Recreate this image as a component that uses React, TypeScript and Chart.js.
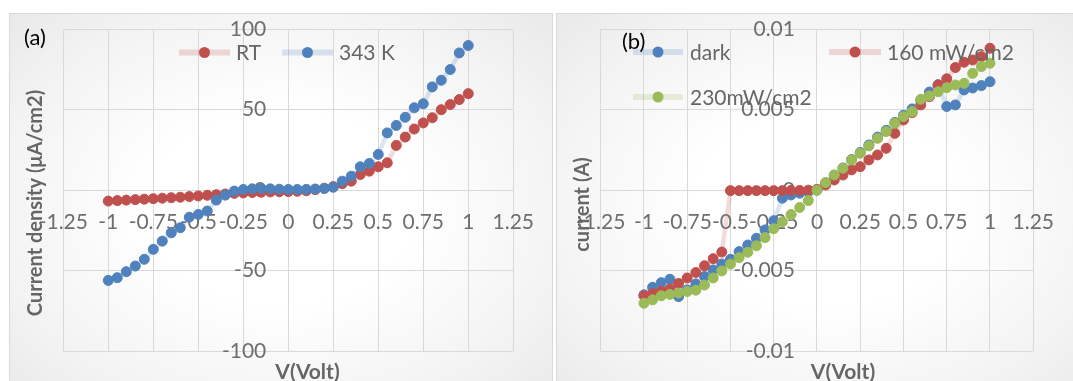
import { useEffect, useRef } from "react";
import { Chart, registerables } from "chart.js";

Chart.register(...registerables);

// ---------------- data ----------------
const voltage = [
  -1, -0.95, -0.9, -0.85, -0.8, -0.75, -0.7, -0.65, -0.6, -0.55, -0.5,
  -0.45, -0.4, -0.35, -0.3, -0.25, -0.2, -0.15, -0.1, -0.05, 0,
  0.05, 0.1, 0.15, 0.2, 0.25, 0.3, 0.35, 0.4, 0.45, 0.5,
  0.55, 0.6, 0.65, 0.7, 0.75, 0.8, 0.85, 0.9, 0.95, 1,
];

// panel (a): current density (µA/cm2)
const rtDensity = [
  -6.8, -6.5, -6.2, -5.9, -5.6, -5.3, -5.0, -4.7, -4.4, -4.0, -3.6,
  -3.2, -2.8, -2.4, -2.0, -1.7, -1.5, -1.3, -1.1, -1.0, -0.9,
  -0.7, -0.4, 0.3, 1.2, 2.2, 4.0, 5.6, 9.7, 11.8, 14.5,
  17, 27.8, 33, 38, 41.8, 45, 50, 53.2, 56.3, 60,
];
const k343Density = [
  -56.1, -54.4, -50.7, -47.2, -43, -36.8, -31.7, -26.5, -23.4, -16.8, -15.1,
  -13, -6.2, -3.1, -0.6, 0.4, 0.8, 1.0, 0.8, 0.6, 0.4,
  0.4, 0.5, 0.7, 1.0, 1.8, 5.6, 8.7, 14.5, 16.6, 22.2,
  35.6, 40.2, 45.3, 51.2, 53.7, 64.2, 68.3, 75, 85.3, 89.9,
];

// panel (b): current (A)
const darkCurrent = [
  -0.00651, -0.00604, -0.00575, -0.00554, -0.00662, -0.0062, -0.00583, -0.00537, -0.00496, -0.00459, -0.0043,
  -0.00382, -0.00341, -0.00299, -0.00247, -0.0019, -0.0005, -0.0003, -0.00019, -0.0001, 0,
  0.00045, 0.00093, 0.00138, 0.0019, 0.00234, 0.00281, 0.0033, 0.00372, 0.00421, 0.00466,
  0.00505, 0.0056, 0.0061, 0.00655, 0.0052, 0.0053, 0.00623, 0.00635, 0.0065, 0.00674,
];
const light160Current = [
  -0.00657, -0.00643, -0.00629, -0.00615, -0.0058, -0.00546, -0.00512, -0.0047, -0.00426, -0.00385, -0.00003,
  -0.00003, -0.00003, -0.00003, -0.00003, -0.00003, -0.00003, -0.00002, -0.00002, 0, 0.00005,
  0.00032, 0.00063, 0.00094, 0.00126, 0.00146, 0.00188, 0.00219, 0.0026, 0.00353, 0.00436,
  0.00482, 0.0053, 0.00581, 0.00654, 0.00692, 0.00762, 0.00795, 0.00809, 0.0083, 0.00882,
];
const light230Current = [
  -0.00703, -0.00682, -0.00657, -0.00648, -0.0064, -0.0063, -0.00622, -0.0059, -0.00546, -0.00502, -0.0046,
  -0.0042, -0.00386, -0.00346, -0.00295, -0.0024, -0.00197, -0.00152, -0.00108, -0.00065, 0,
  0.00047, 0.00094, 0.00136, 0.00188, 0.00229, 0.00275, 0.00322, 0.00364, 0.00416, 0.00457,
  0.00488, 0.00565, 0.00586, 0.00612, 0.00637, 0.00654, 0.00664, 0.00726, 0.00768, 0.00789,
];

const xTickLabels = ["-1.25", "-1", "-0.75", "-0.5", "-0.25", "0", "0.25", "0.5", "0.75", "1", "1.25"];
const yTickLabelsA = ["-100", "-50", "0", "50", "100"];
const yTickLabelsB = ["-0.01", "-0.005", "0", "0.005", "0.01"];
const seriesNamesA = ["RT", "343 K"];
const seriesNamesB = ["dark", "160 mW/cm2", "230mW/cm2"];

// ---------------- styles ----------------
const RED = "#C0504D";
const BLUE = "#4F81BD";
const GREEN = "#9BBB59";
const RED_LINE = "rgba(192,80,77,0.2)";
const BLUE_LINE = "rgba(79,129,189,0.2)";
const GREEN_LINE = "rgba(155,187,89,0.2)";
const GRID = "#d9d9d9";
const TICK_COLOR = "#6e6e6e";
const TITLE_COLOR = "#666666";
const FONT = "Lato, 'Open Sans', sans-serif";
const TICK_SIZE = 21;
const PANEL_BG = "radial-gradient(ellipse at 50% 50%, #ffffff 35%, #f3f3f3 75%, #e9e9e9 100%)";

type LegendItem = { ds: number; lineX1: number; lineX2: number; y: number; textX: number };
type Overlay = {
  yLabels: string[];
  legend: LegendItem[];
  tag: string;
  tagX: number;
  tagY: number;
  xTitle: string;
  xTitleX: number;
  xTitleY: number;
  yTitle: string;
  yTitleX: number;
  yTitleY: number;
};

function makeOverlay(o: Overlay) {
  return {
    id: "overlay",
    beforeDatasetsDraw(chart: any) {
      const ctx = chart.ctx;
      const xs = chart.scales.x;
      const ys = chart.scales.y;
      const x0 = xs.getPixelForValue(0);
      ctx.save();
      ctx.font = `${TICK_SIZE}px ${FONT}`;
      ctx.fillStyle = TICK_COLOR;
      ctx.textAlign = "right";
      ctx.textBaseline = "middle";
      ys.ticks.forEach((t: any, i: number) => {
        ctx.fillText(o.yLabels[i] ?? String(t.value), x0 - 22, ys.getPixelForValue(t.value));
      });
      ctx.restore();
    },
    afterDraw(chart: any) {
      const ctx = chart.ctx;
      ctx.save();
      // legend
      o.legend.forEach((it) => {
        const ds = chart.data.datasets[it.ds];
        ctx.strokeStyle = ds.borderColor;
        ctx.lineWidth = 6;
        ctx.beginPath();
        ctx.moveTo(it.lineX1, it.y);
        ctx.lineTo(it.lineX2, it.y);
        ctx.stroke();
        ctx.fillStyle = ds.pointBackgroundColor;
        ctx.beginPath();
        ctx.arc((it.lineX1 + it.lineX2) / 2, it.y, 5.5, 0, Math.PI * 2);
        ctx.fill();
        ctx.font = `${TICK_SIZE}px ${FONT}`;
        ctx.fillStyle = TITLE_COLOR;
        ctx.textAlign = "left";
        ctx.textBaseline = "middle";
        ctx.fillText(ds.label, it.textX, it.y + 1);
      });
      // panel tag
      ctx.font = `22px ${FONT}`;
      ctx.fillStyle = "#000000";
      ctx.textAlign = "left";
      ctx.textBaseline = "middle";
      ctx.fillText(o.tag, o.tagX, o.tagY);
      // axis titles
      ctx.font = `bold 21px ${FONT}`;
      ctx.fillStyle = TITLE_COLOR;
      ctx.textAlign = "center";
      ctx.textBaseline = "alphabetic";
      ctx.fillText(o.xTitle, o.xTitleX, o.xTitleY);
      ctx.save();
      ctx.translate(o.yTitleX, o.yTitleY);
      ctx.rotate(-Math.PI / 2);
      ctx.textBaseline = "middle";
      ctx.font = `bold 20px ${FONT}`;
      ctx.fillText(o.yTitle, 0, 0);
      ctx.restore();
      ctx.restore();
    },
  };
}

function series(label: string, ys: number[], color: string, line: string, order: number) {
  return {
    label,
    data: voltage.map((v, i) => ({ x: v, y: ys[i] })),
    borderColor: line,
    backgroundColor: color,
    pointBackgroundColor: color,
    pointBorderColor: color,
    pointRadius: 5,
    pointBorderWidth: 1,
    borderWidth: 4.5,
    tension: 0,
    order,
    clip: false as any,
  };
}

function makeConfig(
  datasets: any[],
  yMin: number,
  yMax: number,
  yStep: number,
  padding: { left: number; right: number; top: number; bottom: number },
  overlay: Overlay
): any {
  return {
    type: "line",
    data: { datasets },
    options: {
      responsive: false,
      animation: false,
      layout: { padding },
      plugins: { legend: { display: false }, tooltip: { enabled: false }, title: { display: false } },
      scales: {
        x: {
          type: "linear",
          position: { y: 0 },
          min: -1.25,
          max: 1.25,
          border: { display: false },
          grid: { color: GRID, lineWidth: 1, drawTicks: false },
          ticks: {
            stepSize: 0.25,
            autoSkip: false,
            maxRotation: 0,
            minRotation: 0,
            padding: 19,
            color: TICK_COLOR,
            font: { family: FONT, size: TICK_SIZE },
            callback: (v: number, i: number) => xTickLabels[i] ?? String(v),
          },
        },
        y: {
          type: "linear",
          position: { x: 0 },
          min: yMin,
          max: yMax,
          border: { display: false },
          grid: { color: GRID, lineWidth: 1, drawTicks: false },
          ticks: { stepSize: yStep, display: false },
        },
      },
    },
    plugins: [makeOverlay(overlay)],
  };
}

export default function App() {
  const refA = useRef<HTMLCanvasElement>(null);
  const refB = useRef<HTMLCanvasElement>(null);

  useEffect(() => {
    const chartA = new Chart(
      refA.current!,
      makeConfig(
        [
          series(seriesNamesA[0], rtDensity, RED, RED_LINE, 2),
          series(seriesNamesA[1], k343Density, BLUE, BLUE_LINE, 1),
        ],
        -100,
        100,
        50,
        { left: 54.3, right: 37.3, top: 16.3, bottom: 30 },
        {
          yLabels: yTickLabelsA,
          legend: [
            { ds: 0, lineX1: 170, lineX2: 221, y: 39.5, textX: 227 },
            { ds: 1, lineX1: 273, lineX2: 324, y: 39.5, textX: 330 },
          ],
          tag: "(a)",
          tagX: 15,
          tagY: 24.5,
          xTitle: "V(Volt)",
          xTitleX: 298.5,
          xTitleY: 366,
          yTitle: "Current density (\u03bcA/cm2)",
          yTitleX: 27,
          yTitleY: 190,
        }
      )
    );
    const chartB = new Chart(
      refB.current!,
      makeConfig(
        [
          series(seriesNamesB[0], darkCurrent, BLUE, BLUE_LINE, 3),
          series(seriesNamesB[1], light160Current, RED, RED_LINE, 2),
          series(seriesNamesB[2], light230Current, GREEN, GREEN_LINE, 1),
        ],
        -0.01,
        0.01,
        0.005,
        { left: 44.7, right: 25.3, top: 16.3, bottom: 30 },
        {
          yLabels: yTickLabelsB,
          legend: [
            { ds: 0, lineX1: 77, lineX2: 127, y: 39, textX: 134 },
            { ds: 1, lineX1: 273, lineX2: 325, y: 39, textX: 331 },
            { ds: 2, lineX1: 77, lineX2: 127, y: 84, textX: 134 },
          ],
          tag: "(b)",
          tagX: 66,
          tagY: 29,
          xTitle: "V(Volt)",
          xTitleX: 287,
          xTitleY: 366,
          yTitle: "current (A)",
          yTitleX: 27,
          yTitleY: 191.5,
        }
      )
    );
    return () => {
      chartA.destroy();
      chartB.destroy();
    };
  }, []);

  return (
    <div
      style={{
        position: "fixed",
        left: 0,
        top: 0,
        width: 1073,
        height: 381,
        overflow: "hidden",
        background: "#ffffff",
      }}
    >
      <div
        style={{
          position: "absolute",
          left: 9,
          top: 13,
          width: 544,
          height: 390,
          boxSizing: "border-box",
          border: "1px solid #d9d9d9",
          background: PANEL_BG,
        }}
      />
      <canvas
        ref={refA}
        width={544}
        height={368}
        style={{ position: "absolute", left: 9, top: 13, width: 544, height: 368 }}
      />
      <div
        style={{
          position: "absolute",
          left: 556,
          top: 13,
          width: 540,
          height: 390,
          boxSizing: "border-box",
          border: "1px solid #d9d9d9",
          background: PANEL_BG,
        }}
      />
      <canvas
        ref={refB}
        width={517}
        height={368}
        style={{ position: "absolute", left: 556, top: 13, width: 517, height: 368 }}
      />
    </div>
  );
}
